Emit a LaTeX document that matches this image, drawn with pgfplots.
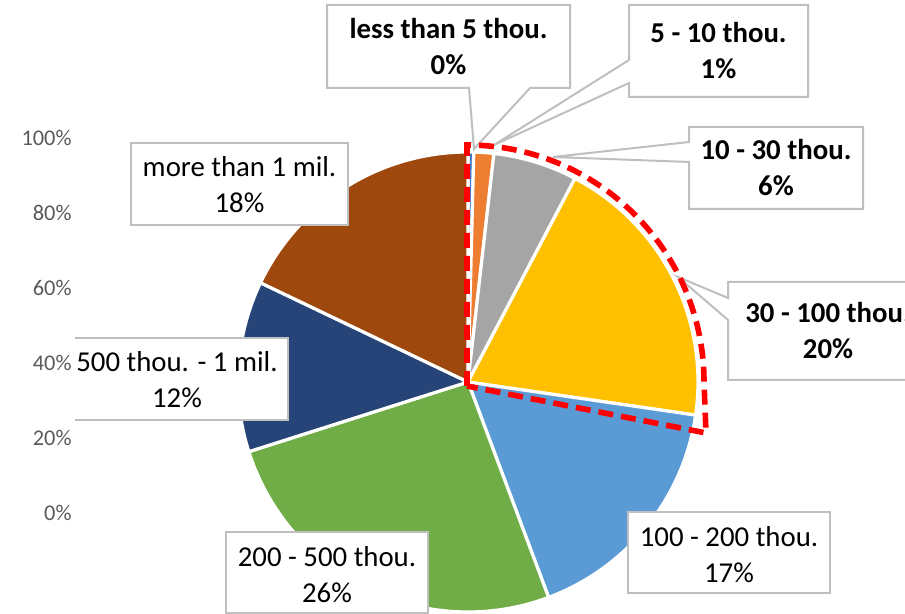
\documentclass[border=0pt]{standalone}
\usepackage{pgfplots}
\pgfplotsset{compat=1.18}
\usepackage{fontspec}
\setmainfont{Carlito}
\definecolor{cA}{HTML}{4472C4}
\definecolor{cB}{HTML}{ED7D31}
\definecolor{cC}{HTML}{A5A5A5}
\definecolor{cD}{HTML}{FFC000}
\definecolor{cE}{HTML}{5B9BD5}
\definecolor{cF}{HTML}{70AD47}
\definecolor{cG}{HTML}{264478}
\definecolor{cH}{HTML}{9E480E}
\definecolor{boxgray}{HTML}{BFBFBF}
\definecolor{tickgray}{HTML}{595959}
\definecolor{dashred}{HTML}{FF0000}
% pie centre (axis units) and radius
\def\cx{124.8}\def\cy{34.933}\def\R{61.333}
% \slice{start percent}{share percent}{colour}
\newcommand\slice[3]{%
  \pgfmathsetmacro\aS{90-3.6*#1}%
  \pgfmathsetmacro\aE{90-3.6*(#1+#2)}%
  \edef\temp{\noexpand\filldraw[fill=#3,draw=white,line width=1.6pt,line join=round]
    (axis cs:\cx,\cy) -- (axis cs:{\cx+\R*cos(\aS)},{\cy+\R*sin(\aS)})
    arc[start angle=\aS,end angle=\aE,radius=115pt] -- cycle;}%
  \temp}
\newcommand\lbl[5]{\node[align=center,text=black,inner sep=0pt,
   font=\fontsize{14.4}{18}\selectfont#5] at (#1,#2) {#3\\#4};}
\begin{document}
\begin{tikzpicture}
\begin{axis}[
  at={(0,0)}, anchor=south west,
  scale only axis,
  x=1.875pt, y=1.875pt,
  xmin=0, xmax=241.333, ymin=-26.933, ymax=136.8,
  hide x axis,
  axis line style={draw=none},
  ytick={0,20,40,60,80,100},
  yticklabels={0\%,20\%,40\%,60\%,80\%,100\%},
  ytick style={draw=none},
  major tick length=0pt,
  yticklabel style={font=\fontsize{11.2}{13}\selectfont, text=tickgray,
     anchor=east, inner sep=0pt, xshift=36pt},
]
% start, share (percent of total), colour -- clockwise from 12 o'clock
\slice{0}{0.4}{cA}     % less than 5 thou.
\slice{0.4}{1.4}{cB}   % 5 - 10 thou.
\slice{1.8}{5.9}{cC}   % 10 - 30 thou.
\slice{7.7}{19.6}{cD}  % 30 - 100 thou.
\slice{27.3}{17.0}{cE} % 100 - 200 thou.
\slice{44.3}{25.8}{cF} % 200 - 500 thou.
\slice{70.1}{12.0}{cG} % 500 thou. - 1 mil.
\slice{82.1}{17.9}{cH} % more than 1 mil.
\end{axis}
\begin{scope}[shift={(0pt,307pt)}, x=0.5pt, y=-0.5pt]
 \begin{scope}[draw=boxgray, line width=1pt, fill=white, line join=miter]
  \filldraw (327,5) -- (570,5) -- (570,88) -- (530,88) -- (474,149) -- (469,88) -- (327,88) -- cycle;
  \filldraw (629,5) -- (808,5) -- (808,97) -- (629,97) -- (629,83) -- (494,145) -- (629,60) -- cycle;
  \filldraw (689,127) -- (863,127) -- (863,209) -- (689,209) -- (689,162) -- (553,157) -- (689,142) -- cycle;
  \filldraw (728,282) -- (940,282) -- (940,380) -- (728,380) -- (728,320) -- (678,277) -- (728,298) -- cycle;
  \filldraw (628,512) rectangle (830,593);
  \filldraw (226,532) rectangle (428,613);
  \filldraw (131,143) rectangle (348,225);
  \fill (75,338) rectangle (288,420);
  \draw (75,338) -- (288,338) -- (288,420) -- (75,420);
 \end{scope}
 \lbl{448.5}{47}{less than 5 thou.}{0\%}{\bfseries}
 \lbl{718.5}{51}{5 - 10 thou.}{1\%}{\bfseries}
 \lbl{776}{168}{10 - 30 thou.}{6\%}{\bfseries}
 \lbl{828}{331}{30 - 100 thou.}{20\%}{\bfseries}
 \lbl{729}{555}{100 - 200 thou.}{17\%}{}
 \lbl{327}{575}{200 - 500 thou.}{26\%}{}
 \lbl{239.5}{185}{more than 1 mil.}{18\%}{}
 \lbl{177}{380}{500 thou. - 1 mil.}{12\%}{}
 % highlight of the first four groups
 \draw[dashred, line width=2.8pt, dash pattern=on 7.5pt off 4pt, line join=miter]
   (467,386) -- (467,145) arc[start angle=90, end angle=0, radius=118.5pt] -- (706,433) -- cycle;
\end{scope}
\pgfresetboundingbox
\path (0,0) rectangle (452.5pt,307pt);
\end{tikzpicture}
\end{document}
